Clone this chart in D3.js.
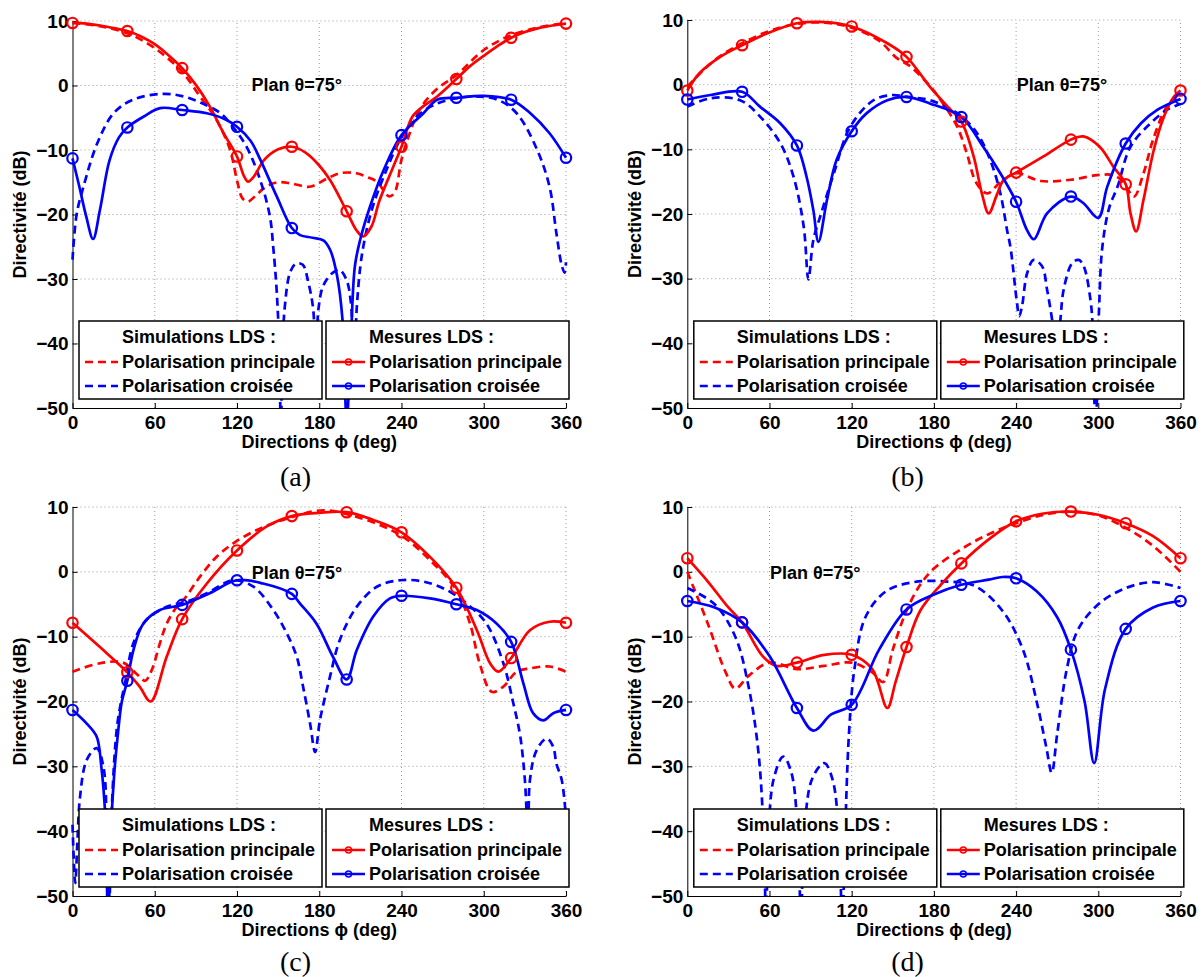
<!DOCTYPE html>
<html><head><meta charset="utf-8">
<script src="https://cdn.jsdelivr.net/npm/d3@7"></script>
<style>body{margin:0;background:#fff}</style>
</head><body>
<svg id="c" width="1204" height="977"></svg>
<script>
// ---------- data ----------
const xTicks = [0,60,120,180,240,300,360];
const yTicks = [10,0,-10,-20,-30,-40,-50];
const markerPhi = [0,40,80,120,160,200,240,280,320,360];
const captions = ["(a)","(b)","(c)","(d)"];
const planLabel = "Plan θ=75°";
const xLabel = "Directions ϕ (deg)";
const yLabel = "Directivité (dB)";
const legendSimTitle = "Simulations LDS :";
const legendMesTitle = "Mesures LDS :";
const legendItems = ["Polarisation principale","Polarisation croisée"];

// panel (a)  [phi (deg), dB]
const a_simPrin = [[0,9.7],[20,9.2],[40,8.1],[60,5.8],[80,2.1],[93,-1.7],[105,-5.3],[115,-10],[120,-14.7],[124,-17.5],[128,-18.0],[134,-17.0],[141,-15.7],[150,-15.0],[160,-15.2],[173,-15.7],[185,-14.5],[195,-13.6],[207,-13.6],[215,-14.2],[222,-14.9],[231,-17.2],[235,-16.6],[240,-11.5],[246,-7.4],[253,-3.8],[265,-0.7],[280,1.6],[300,5.5],[320,7.8],[340,9.0],[360,9.7]];
const a_simCross = [[0,-27],[3,-20],[8,-15.7],[18,-9.0],[30,-4.3],[44,-2.2],[66,-1.3],[81,-1.7],[95,-2.8],[108,-4.3],[117,-6.4],[127,-9.5],[137,-14.7],[144,-20.3],[146.5,-25.2],[149,-32],[151,-42],[152,-56],[153,-42],[155,-34],[158.7,-29],[163,-27.6],[168,-27.8],[172,-30.5],[175.5,-34.5],[177.5,-42],[179.5,-34.5],[183,-31],[190,-29],[195,-28.6],[200,-30.2],[203,-33.5],[205.5,-42],[207.5,-34],[210,-28],[213,-24],[219,-18.8],[229,-13.1],[239,-8.4],[251,-4.8],[266,-2.8],[280,-2.0],[292,-1.7],[310,-2.2],[324,-4.3],[339,-10],[348,-15.7],[353,-22.9],[357,-28],[359,-29],[360,-27.4]];
const a_mesPrin = [[0,9.7],[10,9.6],[20,9.3],[30,8.9],[40,8.45],[50,7.6],[60,6.4],[70,4.7],[80,2.7],[90,0.1],[100,-3.2],[110,-7.3],[120,-11.0],[125,-14.0],[128,-14.9],[132,-14.2],[140,-11.5],[150,-9.9],[160,-9.5],[170,-10.4],[180,-12.4],[188,-14.7],[200,-19.5],[207,-22.4],[212,-23.4],[218,-21.9],[224,-17.8],[234,-12.6],[240,-9.5],[248,-4.8],[256,-3.2],[266,-1.7],[280,1.0],[290,3.0],[300,4.6],[310,6.1],[320,7.4],[330,8.3],[340,8.9],[350,9.3],[360,9.6]];
const a_mesCross = [[0,-11.3],[5,-15.7],[10,-20.3],[15,-23.8],[20,-19.3],[27,-11.6],[34,-8.0],[40,-6.5],[52,-4.8],[64,-3.5],[80,-3.8],[98,-4.3],[112,-5.3],[120,-6.4],[130,-8.6],[137,-11.5],[149,-17.2],[160,-22.1],[166,-23.2],[175,-23.6],[183,-24],[188,-25.5],[193,-29.5],[197,-36.4],[200,-52],[203,-40],[206,-28],[210,-23.8],[217,-18.8],[227,-13.1],[240,-7.7],[256,-4.3],[266,-2.2],[280,-1.9],[300,-1.6],[320,-2.2],[334,-4.3],[348,-7.4],[360,-11.2]];

// panel (b)
const b_simPrin = [[0,-0.3],[20,3.8],[40,6.4],[60,8.3],[80,9.4],[100,9.6],[120,8.8],[140,6.8],[153,4.1],[163,2.8],[177,-0.2],[185,-2.4],[197,-6.5],[204,-10.6],[211,-15.2],[219,-16.8],[228,-15.2],[240,-13.7],[258,-14.9],[280,-14.7],[299,-14.0],[311,-14.0],[318,-15.0],[326,-17.3],[333,-13.7],[340,-8.5],[350,-3.4],[360,-1.3]];
const b_simCross = [[0,-3.4],[17,-2.1],[38.5,-2.4],[53,-4.9],[68,-9.1],[77.5,-14.2],[85,-22],[88.4,-30.1],[92,-24],[97,-20.4],[107,-13.7],[119,-6.5],[136,-2.4],[150,-1.6],[160,-1.9],[177,-2.4],[197,-4.4],[211.5,-7.5],[221,-11.6],[228.5,-16.8],[233.4,-22.5],[236,-25.3],[240.5,-33.5],[242.3,-35.8],[244.3,-34.3],[248,-29.2],[252.8,-27.1],[259,-28.1],[262.6,-31.7],[266.3,-36.4],[269.3,-42],[272.3,-36.4],[274.7,-31.7],[280.9,-27.6],[285.7,-27.1],[289.4,-28.1],[294.3,-33.3],[296,-38],[298,-55],[300.5,-35],[303,-25],[308,-19],[314,-15.8],[323.5,-9.6],[338,-6.0],[350,-3.9],[360,-3.0]];
const b_mesPrin = [[0,-0.9],[9,1.8],[24,4.3],[40,6.1],[58,7.9],[80,9.5],[97,9.7],[120,9.0],[146,6.4],[160,4.3],[177,-0.3],[190,-3.4],[200,-5.7],[209,-11.1],[215,-16.8],[220,-19.9],[226,-17],[231,-14.7],[240,-13.6],[260,-11.1],[280,-8.5],[289,-8.0],[301,-9.6],[311,-12.7],[320,-15.4],[323.5,-19.9],[327.6,-22.7],[333,-17.8],[340.5,-10.1],[348,-4.9],[355,-1.9],[360,-0.9]];
const b_mesCross = [[0,-2.3],[17,-1.6],[40,-1.1],[53,-3.4],[68,-6.0],[80,-9.4],[87,-14.2],[92,-19.4],[95.7,-24.3],[102,-17.8],[109,-11.6],[120,-7.2],[131,-4.4],[146,-2.4],[160,-1.9],[177,-2.9],[200,-5.0],[216,-9.6],[228.5,-13.7],[240,-18.1],[248,-22.5],[253,-23.9],[262.6,-19.9],[280,-17.3],[289,-18.3],[300,-20.6],[306.5,-15.8],[320,-9.1],[331,-6.0],[343,-3.9],[360,-2.2]];

// panel (c)
const c_simPrin = [[0,-15.4],[20,-14.1],[37,-14.0],[47,-15.8],[53,-16.8],[57.7,-15.2],[63.8,-11],[68.7,-8.0],[76,-5.4],[80.8,-4.4],[93,-0.75],[105,2.3],[117.3,4.4],[132,6.2],[146.5,7.5],[161,8.5],[183,9.5],[207,8.5],[239,5.7],[260.8,1.8],[280,-2.8],[290,-8.0],[297,-14.1],[305.8,-18.5],[314.3,-17.7],[324,-15.4],[333.7,-14.9],[348,-14.6],[360,-15.4]];
const c_simCross = [[0,-39],[2,-48],[3.5,-42],[5.5,-34.7],[10.4,-29],[17.6,-27.2],[22.5,-30],[25,-39.8],[26.5,-55],[28.6,-36.8],[32.2,-24.4],[35,-20.5],[38.3,-17.2],[44.4,-11.0],[54,-7.4],[68.7,-5.4],[83.3,-4.6],[98,-3.3],[117.3,-1.3],[132,-2.3],[146.5,-5.9],[156.3,-9.5],[163.6,-13.1],[168,-17.5],[173.3,-23.4],[177,-27.8],[180.5,-22.9],[187.8,-16.2],[195,-10.5],[207.3,-5.4],[222,-2.3],[239,-1.3],[256,-1.5],[273,-2.8],[287.6,-4.9],[302,-8.0],[314.3,-14.1],[321.6,-20.3],[326.5,-25.2],[330,-32.1],[332.5,-42],[333.7,-32.1],[338.6,-27.5],[346,-25.7],[350.7,-27],[353,-29.6],[356.9,-32.1],[360,-38]];
const c_mesPrin = [[0,-7.85],[20,-11.6],[40,-15.5],[49,-17.7],[57,-20.0],[68.7,-13.1],[80,-7.3],[98,-1.8],[120,3.3],[141.7,7.0],[160,8.6],[180,9.1],[200,9.2],[219.4,8.0],[240,6.1],[260.8,2.3],[280,-2.45],[295,-9.0],[304.6,-14.1],[310.6,-15.4],[320,-13.3],[333.7,-9.0],[348,-7.7],[360,-7.85]];
const c_mesCross = [[0,-21.3],[10.4,-23.4],[17.6,-25.4],[21,-30],[24,-38],[26,-55],[28,-40],[30.5,-31],[33.4,-24.4],[36,-20],[40,-16.8],[44.4,-12.1],[51.6,-8.0],[63.8,-5.9],[80,-5.1],[100,-3.3],[120,-1.3],[139,-1.8],[160,-3.4],[166,-4.9],[178,-8.0],[190,-13.1],[200,-16.6],[207.3,-12.1],[219.4,-6.9],[231.6,-4.1],[240,-3.7],[260.8,-4.1],[280,-5.0],[294.9,-5.9],[309.5,-8.0],[320,-10.8],[328.9,-17.2],[336,-21.8],[343.5,-22.9],[350.7,-21.8],[360,-21.3]];

// panel (d)
const d_simPrin = [[0,0],[15,-8],[28,-15.5],[35,-18],[45,-16],[60,-14],[80,-15],[100,-14.5],[120,-14],[135,-15.5],[143,-17],[150,-12],[160,-6],[170,-2],[180,0.5],[200,3.5],[220,5.8],[240,7.5],[260,8.8],[280,9.3],[300,8.7],[320,6.8],[340,4],[360,0]];
const d_simCross = [[0,-2.5],[20,-5],[35,-10],[45,-18],[52,-28],[56,-42],[57.5,-56],[59,-42],[63,-32],[70,-28.5],[76,-31],[81,-42],[83,-56],[85,-42],[91,-32],[100,-29.5],[106,-32],[111,-42],[113,-56],[115,-42],[118,-25],[122,-15],[130,-7],[145,-3],[165,-1.6],[190,-1.5],[210,-2.2],[230,-6],[245,-12],[255,-20],[262,-27],[266,-31],[270,-25],[277,-15],[285,-9],[300,-5],[320,-2.5],[340,-1.6],[360,-2.5]];
const d_mesPrin = [[0,2.1],[15,-1.5],[30,-5.5],[40,-7.8],[55,-13],[65,-14.5],[80,-14.0],[100,-12.8],[120,-12.8],[135,-15],[146,-21],[152,-17],[160,-11.6],[170,-6],[185,-2],[200,1.3],[220,5],[240,7.8],[260,9],[280,9.3],[300,8.8],[320,7.5],[340,5.5],[360,2.1]];
const d_mesCross = [[0,-4.5],[20,-5.5],[40,-7.8],[60,-13],[80,-21],[92,-24.5],[105,-22],[120,-20.5],[140,-12],[160,-5.8],[180,-3.5],[200,-2],[220,-1.2],[230,-0.8],[240,-1],[255,-3],[270,-7],[280,-12],[290,-20],[297,-29.5],[305,-18],[320,-8.8],[340,-5.5],[360,-4.5]];

// ---------- layout ----------
const panels = [
  {x0:72.5, x1:566, yTop:21, yBot:408, series:[a_simPrin,a_simCross,a_mesPrin,a_mesCross], plan:[251.5,85], cap:[295.5,476]},
  {x0:687.3, x1:1180.5, yTop:20, yBot:408, series:[b_simPrin,b_simCross,b_mesPrin,b_mesCross], plan:[1016.7,85], cap:[907.5,476]},
  {x0:72.5, x1:566, yTop:507, yBot:896, series:[c_simPrin,c_simCross,c_mesPrin,c_mesCross], plan:[251.7,573], cap:[295.5,961]},
  {x0:687.3, x1:1180.5, yTop:507, yBot:896, series:[d_simPrin,d_simCross,d_mesPrin,d_mesCross], plan:[770,573], cap:[907.5,961]}
];
const RED = "#ff0000", BLUE = "#0000ff";
const seriesStyle = [
  {color:RED, dash:"8,5", markers:false},
  {color:BLUE, dash:"8,5", markers:false},
  {color:RED, dash:null, markers:true},
  {color:BLUE, dash:null, markers:true}
];
const FONT = "'Liberation Sans', Arial, Helvetica, sans-serif";
const svg = d3.select("#c");

panels.forEach((p, pi) => {
  const x = d3.scaleLinear().domain([0,360]).range([p.x0,p.x1]);
  const y = d3.scaleLinear().domain([-50,10]).range([p.yBot,p.yTop]);
  const g = svg.append("g");
  const clipId = "clip"+pi;
  svg.append("clipPath").attr("id",clipId).append("rect")
    .attr("x",p.x0-2).attr("y",p.yTop-15).attr("width",p.x1-p.x0+10).attr("height",p.yBot-p.yTop+15);

  // grid
  g.append("g").selectAll("line").data(xTicks.slice(1)).join("line")
    .attr("x1",d=>x(d)).attr("x2",d=>x(d)).attr("y1",p.yBot).attr("y2",p.yTop)
    .attr("stroke","#9a9a9a").attr("stroke-width",1).attr("stroke-dasharray","1,3");
  g.append("g").selectAll("line").data(yTicks.slice(0,-1)).join("line")
    .attr("x1",p.x0).attr("x2",p.x1).attr("y1",d=>y(d)).attr("y2",d=>y(d))
    .attr("stroke","#9a9a9a").attr("stroke-width",1).attr("stroke-dasharray","1,3");

  // axes
  const ax = g.append("g").attr("transform",`translate(0,${p.yBot})`)
    .call(d3.axisBottom(x).tickValues(xTicks).tickSize(-5).tickSizeOuter(0).tickPadding(8));
  const ay = g.append("g").attr("transform",`translate(${p.x0},0)`)
    .call(d3.axisLeft(y).tickValues(yTicks).tickSize(-5).tickSizeOuter(0).tickPadding(4));
  [ax,ay].forEach(a=>{
    a.selectAll("text").attr("font-family",FONT).attr("font-weight","bold").attr("font-size",19).attr("fill","#000");
    a.select(".domain").attr("stroke","#000").attr("stroke-width",1);
    a.selectAll(".tick line").attr("stroke","#000");
  });

  // curves
  const line = d3.line().x(d=>x(d[0])).y(d=>y(d[1])).curve(d3.curveCatmullRom.alpha(0.5));
  const cg = g.append("g").attr("clip-path",`url(#${clipId})`);
  p.series.forEach((s, si) => {
    const st = seriesStyle[si];
    cg.append("path").attr("d",line(s)).attr("fill","none").attr("stroke",st.color)
      .attr("stroke-width",2.7).attr("stroke-dasharray",st.dash).attr("stroke-linejoin","round");
  });
  p.series.forEach((s, si) => {
    const st = seriesStyle[si];
    if (!st.markers) return;
    g.append("g").selectAll("circle").data(s.filter(d=>markerPhi.includes(d[0]) && d[1] >= -50)).join("circle")
      .attr("cx",d=>x(d[0])).attr("cy",d=>y(d[1])).attr("r",5.2)
      .attr("fill","none").attr("stroke",st.color).attr("stroke-width",2.2);
  });

  // plan label
  g.append("text").attr("x",p.plan[0]).attr("y",p.plan[1]).attr("dy","0.35em")
    .attr("font-family",FONT).attr("font-weight","bold").attr("font-size",18).text(planLabel);

  // axis labels
  g.append("text").attr("x",(p.x0+p.x1)/2).attr("y",p.yBot+34).attr("dy","0.35em").attr("text-anchor","middle")
    .attr("font-family",FONT).attr("font-weight","bold").attr("font-size",18).text(xLabel);
  g.append("text").attr("transform",`translate(${p.x0-53},${(p.yTop+p.yBot)/2}) rotate(-90)`)
    .attr("dy","0.35em").attr("text-anchor","middle")
    .attr("font-family",FONT).attr("font-weight","bold").attr("font-size",18).text(yLabel);

  // legends
  const boxes = [
    {L:p.x0+6.5, W:243, title:legendSimTitle, styles:[seriesStyle[0],seriesStyle[1]]},
    {L:p.x0+253.5, W:243, title:legendMesTitle, styles:[seriesStyle[2],seriesStyle[3]]}
  ];
  const top = p.yBot-87;
  boxes.forEach(b=>{
    const lg = g.append("g");
    lg.append("rect").attr("x",b.L).attr("y",top).attr("width",b.W).attr("height",78)
      .attr("fill","#fff").attr("stroke","#000").attr("stroke-width",1.5);
    lg.append("text").attr("x",b.L+43).attr("y",top+16).attr("dy","0.35em")
      .attr("font-family",FONT).attr("font-weight","bold").attr("font-size",18).text(b.title);
    b.styles.forEach((st,i)=>{
      const yy = top+41+i*24;
      lg.append("line").attr("x1",b.L+6).attr("x2",b.L+39).attr("y1",yy).attr("y2",yy)
        .attr("stroke",st.color).attr("stroke-width",2.6).attr("stroke-dasharray",st.dash);
      if (st.markers) lg.append("circle").attr("cx",b.L+22.5).attr("cy",yy).attr("r",3)
        .attr("fill","none").attr("stroke",st.color).attr("stroke-width",1.5);
      lg.append("text").attr("x",b.L+43).attr("y",yy).attr("dy","0.35em")
        .attr("font-family",FONT).attr("font-weight","bold").attr("font-size",18).text(legendItems[i]);
    });
  });

  // caption
  svg.append("text").attr("x",p.cap[0]).attr("y",p.cap[1]).attr("dy","0.35em").attr("text-anchor","middle")
    .attr("font-family","'Liberation Serif', 'Times New Roman', serif").attr("font-size",28).text(captions[pi]);
});
</script>
</body></html>
